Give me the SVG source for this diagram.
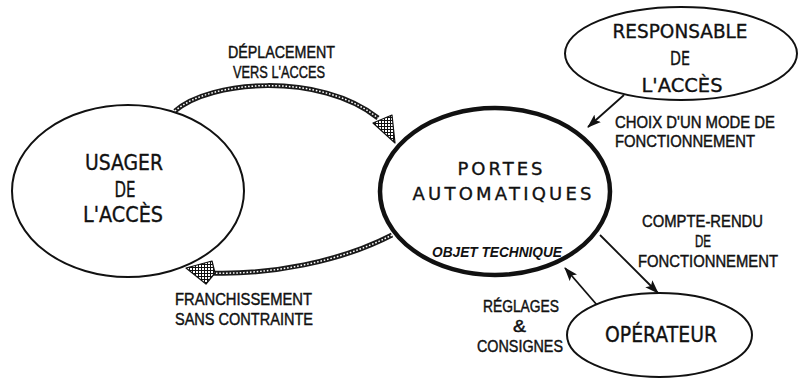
<svg xmlns="http://www.w3.org/2000/svg" width="800" height="380" viewBox="0 0 800 380">
  <style>
    .node { fill: #ffffff; stroke: #111; stroke-width: 2; }
    .main { fill: #ffffff; stroke: #111; stroke-width: 4.5; }
    .ntext { font-family: "DejaVu Sans", "Open Sans", sans-serif; fill: #111; text-anchor: middle; stroke: #111; stroke-width: 0.35; }
    .ptext { font-family: "DejaVu Sans", "Open Sans", sans-serif; fill: #111; text-anchor: middle; font-size: 18px; stroke: #111; stroke-width: 0.35; }
    .label { font-family: "Liberation Sans", Arial, sans-serif; fill: #111; font-size: 17px; stroke: #111; stroke-width: 0.45; }
    .sub { font-family: "Liberation Sans", Arial, sans-serif; font-style: italic; font-weight: bold; fill: #111; font-size: 14px; }
    .line { fill: none; stroke: #111; stroke-width: 1.8; }
    .chain-out { fill: none; stroke: #1a1a1a; stroke-width: 5; }
    .chain-in { fill: none; stroke: #fff; stroke-width: 1.5; stroke-dasharray: 1.6 1.8; }
    .hatch-head { fill: url(#hatch); stroke: #111; stroke-width: 1.2; stroke-linejoin: round; }
  </style>
  <defs>
    <pattern id="hatch" width="3" height="3" patternUnits="userSpaceOnUse">
      <rect width="3" height="3" fill="#fff"/>
      <path d="M0,0.5 H3 M0.5,0 V3" stroke="#111" stroke-width="1"/>
    </pattern>
    <marker id="head" viewBox="0 0 14 10" refX="13" refY="5" markerWidth="14" markerHeight="10" markerUnits="userSpaceOnUse" orient="auto">
      <path d="M0,0 L14,5 L0,10 L3,5 Z" fill="#111"/>
    </marker>
  </defs>

  <rect width="800" height="380" fill="#ffffff"/>

  <!-- connectors -->
  <g id="connectors">
    <!-- user moving towards the doors -->
    <path class="chain-out" d="M175,111 C210,80 320,72 378,118"/>
    <path class="chain-in" d="M175,111 C210,80 320,72 378,118"/>
    <path class="hatch-head" d="M373,123 L392,115 L395,143 Z"/>

    <!-- crossing without constraint -->
    <path class="chain-out" d="M392,235 C340,262 270,275 210,273"/>
    <path class="chain-in" d="M392,235 C340,262 270,275 210,273"/>
    <path class="hatch-head" d="M186,268 L212,261 L215,273 L206,284 Z"/>

    <!-- operating mode choice -->
    <line class="line" x1="624" y1="95" x2="588" y2="127" marker-end="url(#head)"/>
    <!-- operation report -->
    <line class="line" x1="600" y1="235" x2="658" y2="293" marker-end="url(#head)"/>
    <!-- settings and instructions -->
    <line class="line" x1="597" y1="305" x2="565" y2="268" marker-end="url(#head)"/>

    <text class="label" x="228" y="58" textLength="107" lengthAdjust="spacingAndGlyphs">DÉPLACEMENT</text>
    <text class="label" x="233" y="78" textLength="92" lengthAdjust="spacingAndGlyphs">VERS L'ACCES</text>

    <text class="label" x="175" y="305" textLength="137" lengthAdjust="spacingAndGlyphs">FRANCHISSEMENT</text>
    <text class="label" x="175" y="325" textLength="138" lengthAdjust="spacingAndGlyphs">SANS CONTRAINTE</text>

    <text class="label" x="615" y="128" textLength="160" lengthAdjust="spacingAndGlyphs">CHOIX D'UN MODE DE</text>
    <text class="label" x="615" y="147" textLength="140" lengthAdjust="spacingAndGlyphs">FONCTIONNEMENT</text>

    <text class="label" x="642" y="227" textLength="121" lengthAdjust="spacingAndGlyphs">COMPTE-RENDU</text>
    <text class="label" x="695" y="247" textLength="16" lengthAdjust="spacingAndGlyphs">DE</text>
    <text class="label" x="638" y="267" textLength="140" lengthAdjust="spacingAndGlyphs">FONCTIONNEMENT</text>

    <text class="label" x="483" y="312" textLength="76" lengthAdjust="spacingAndGlyphs">RÉGLAGES</text>
    <text class="label" x="513" y="332" textLength="13" lengthAdjust="spacingAndGlyphs">&amp;</text>
    <text class="label" x="477" y="352" textLength="86" lengthAdjust="spacingAndGlyphs">CONSIGNES</text>
  </g>

  <!-- access user -->
  <g id="usager">
    <ellipse class="node" cx="128" cy="191" rx="116" ry="86"/>
    <text class="ntext" x="124" y="170" font-size="21" textLength="78" lengthAdjust="spacingAndGlyphs">USAGER</text>
    <text class="ntext" x="125" y="197" font-size="21" textLength="21" lengthAdjust="spacingAndGlyphs">DE</text>
    <text class="ntext" x="123" y="222" font-size="21" textLength="80" lengthAdjust="spacingAndGlyphs">L'ACCÈS</text>
  </g>

  <!-- automatic doors: the technical object -->
  <g id="portes">
    <ellipse class="main" cx="495" cy="191.5" rx="115" ry="83.5"/>
    <text class="ptext" x="500" y="175" textLength="85" lengthAdjust="spacing">PORTES</text>
    <text class="ptext" x="502" y="200" textLength="179" lengthAdjust="spacing">AUTOMATIQUES</text>
    <text class="sub" x="432" y="257" textLength="130" lengthAdjust="spacingAndGlyphs">OBJET TECHNIQUE</text>
  </g>

  <!-- access manager -->
  <g id="responsable">
    <ellipse class="node" cx="681" cy="53.5" rx="116" ry="46.5"/>
    <text class="ntext" x="680" y="38" font-size="19" textLength="135" lengthAdjust="spacingAndGlyphs">RESPONSABLE</text>
    <text class="ntext" x="680" y="65" font-size="19" textLength="20" lengthAdjust="spacingAndGlyphs">DE</text>
    <text class="ntext" x="682" y="92" font-size="19" textLength="81" lengthAdjust="spacingAndGlyphs">L'ACCÈS</text>
  </g>

  <!-- operator -->
  <g id="operateur">
    <ellipse class="node" cx="659.5" cy="335" rx="92.5" ry="42"/>
    <text class="ntext" x="661" y="342" font-size="21" textLength="112" lengthAdjust="spacingAndGlyphs">OPÉRATEUR</text>
  </g>
</svg>
